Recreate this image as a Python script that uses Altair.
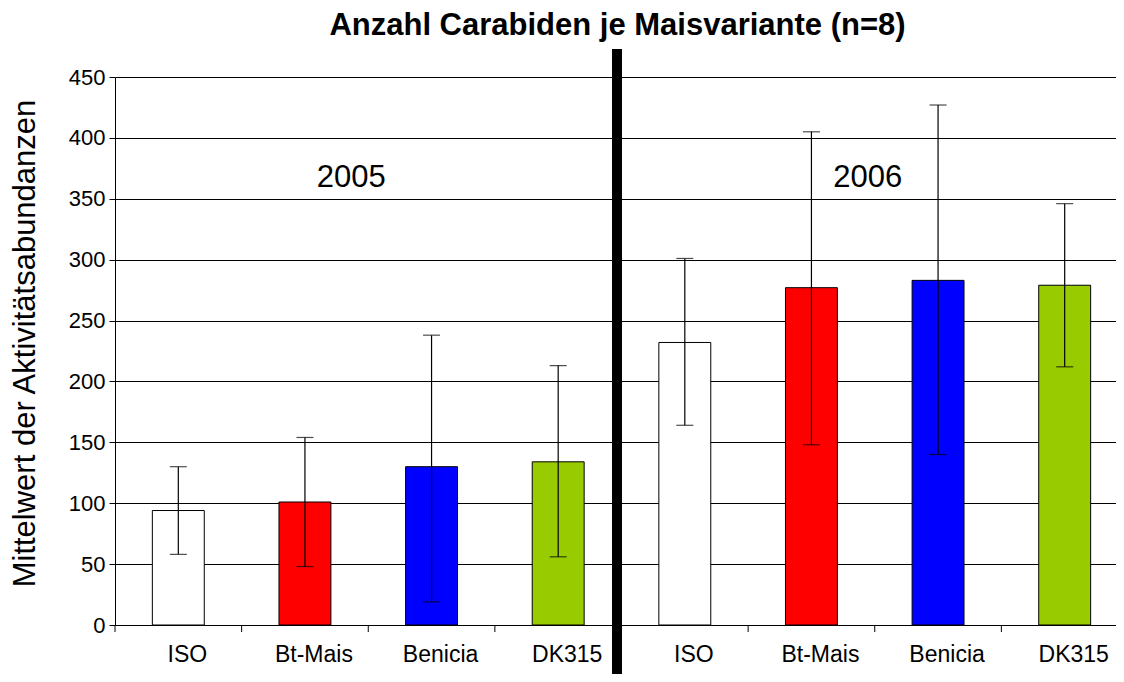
import altair as alt
import pandas as pd

categories = ["ISO", "Bt-Mais", "Benicia", "DK315"]
years = ["2005", "2006"]
means_2005 = [94, 101, 130, 134]
means_2006 = [232, 277, 283, 279]
lower_2005 = [58, 48, 19, 56]
upper_2005 = [130, 154, 238, 213]
lower_2006 = [164, 148, 140, 212]
upper_2006 = [301, 405, 427, 346]
bar_colors = ["#FFFFFF", "#FF0000", "#0000FF", "#99CC00"]
year_label_y = 367

rows = []
for yr, means, lows, ups in [("2005", means_2005, lower_2005, upper_2005),
                             ("2006", means_2006, lower_2006, upper_2006)]:
    for c, m, lo, up in zip(categories, means, lows, ups):
        rows.append({"key": f"{c}|{yr}", "cat": c, "year": yr,
                     "mean": m, "lo": lo, "up": up})
df = pd.DataFrame(rows)
order = list(df["key"])

W, H = 1001, 548
XR = 1013  # band range extends past the visible edge, as in the reference

x_enc = alt.X("key:N", sort=order,
              scale=alt.Scale(domain=order, paddingInner=0, paddingOuter=0, range=[0, XR]),
              axis=alt.Axis(title=None, labelExpr="split(datum.label, '|')[0]",
                            ticks=False, labelFontSize=23, labelPadding=18, labelOffset=9,
                            labelColor="black", domainColor="black",
                            labelFont="Liberation Sans", labelAngle=0))
y_scale = alt.Scale(domain=[0, 450])

bars = alt.Chart(df).mark_bar(width={"band": 0.41}, stroke="black", strokeWidth=1).encode(
    x=x_enc,
    y=alt.Y("mean:Q", scale=y_scale,
            axis=alt.Axis(values=list(range(0, 451, 50)), title="Mittelwert der Aktivitätsabundanzen",
                          titleFontSize=31, titleFontWeight="normal", titleFont="Liberation Sans",
                          titleX=-90, titleY=266, titleAngle=-90, titleAlign="center",
                          titleBaseline="middle", titleColor="black",
                          labelFontSize=22, labelFont="Liberation Sans", labelColor="black",
                          tickColor="black", tickSize=6, labelPadding=4,
                          gridColor="black", gridOpacity=1, domainColor="black")),
    fill=alt.Fill("cat:N", scale=alt.Scale(domain=categories, range=bar_colors), legend=None),
)

err = alt.Chart(df).mark_rule(color="black", strokeWidth=1.2).encode(
    x=alt.X("key:N", sort=order), y="lo:Q", y2="up:Q")
cap_lo = alt.Chart(df).mark_tick(color="black", size=17, thickness=1.2, orient="horizontal").encode(
    x=alt.X("key:N", sort=order), y="lo:Q")
cap_up = alt.Chart(df).mark_tick(color="black", size=17, thickness=1.2, orient="horizontal").encode(
    x=alt.X("key:N", sort=order), y="up:Q")

ticks_df = pd.DataFrame({"key": order})
xticks = alt.Chart(ticks_df).mark_rule(color="black", strokeWidth=1).encode(
    x=alt.X("key:N", sort=order, bandPosition=0),
    y=alt.value(H), y2=alt.value(H + 7))

sep_df = pd.DataFrame({"key": ["ISO|2006"]})
sep = alt.Chart(sep_df).mark_rule(color="black", strokeWidth=10, xOffset=-4.5).encode(
    x=alt.X("key:N", sort=order, bandPosition=0),
    y=alt.value(-28), y2=alt.value(H + 70))

y05 = pd.DataFrame({"key": ["Benicia|2005"], "label": [years[0]], "yy": [year_label_y]})
y06 = pd.DataFrame({"key": ["Benicia|2006"], "label": [years[1]], "yy": [year_label_y]})
text_05 = alt.Chart(y05).mark_text(fontSize=31, font="Liberation Sans", color="black",
                                   baseline="middle", dx=-17).encode(
    x=alt.X("key:N", sort=order, bandPosition=0), y="yy:Q", text="label:N")
text_06 = alt.Chart(y06).mark_text(fontSize=31, font="Liberation Sans", color="black",
                                   baseline="middle", dx=-7).encode(
    x=alt.X("key:N", sort=order, bandPosition=0), y="yy:Q", text="label:N")

chart = alt.layer(bars, err, cap_lo, cap_up, xticks, sep, text_05, text_06).properties(
    width=W, height=H,
    title=alt.TitleParams("Anzahl Carabiden je Maisvariante (n=8)", fontSize=31,
                          font="Liberation Sans", fontWeight="bold", color="black",
                          anchor="middle", offset=2, dx=2),
    autosize=alt.AutoSizeParams(type="none"),
    padding={"left": 107, "top": 69, "right": 0, "bottom": 49},
).configure_view(stroke=None).configure_axis(grid=True).configure_axisX(grid=False)

chart.save("out.html", embed_options={"renderer": "svg", "actions": False})
